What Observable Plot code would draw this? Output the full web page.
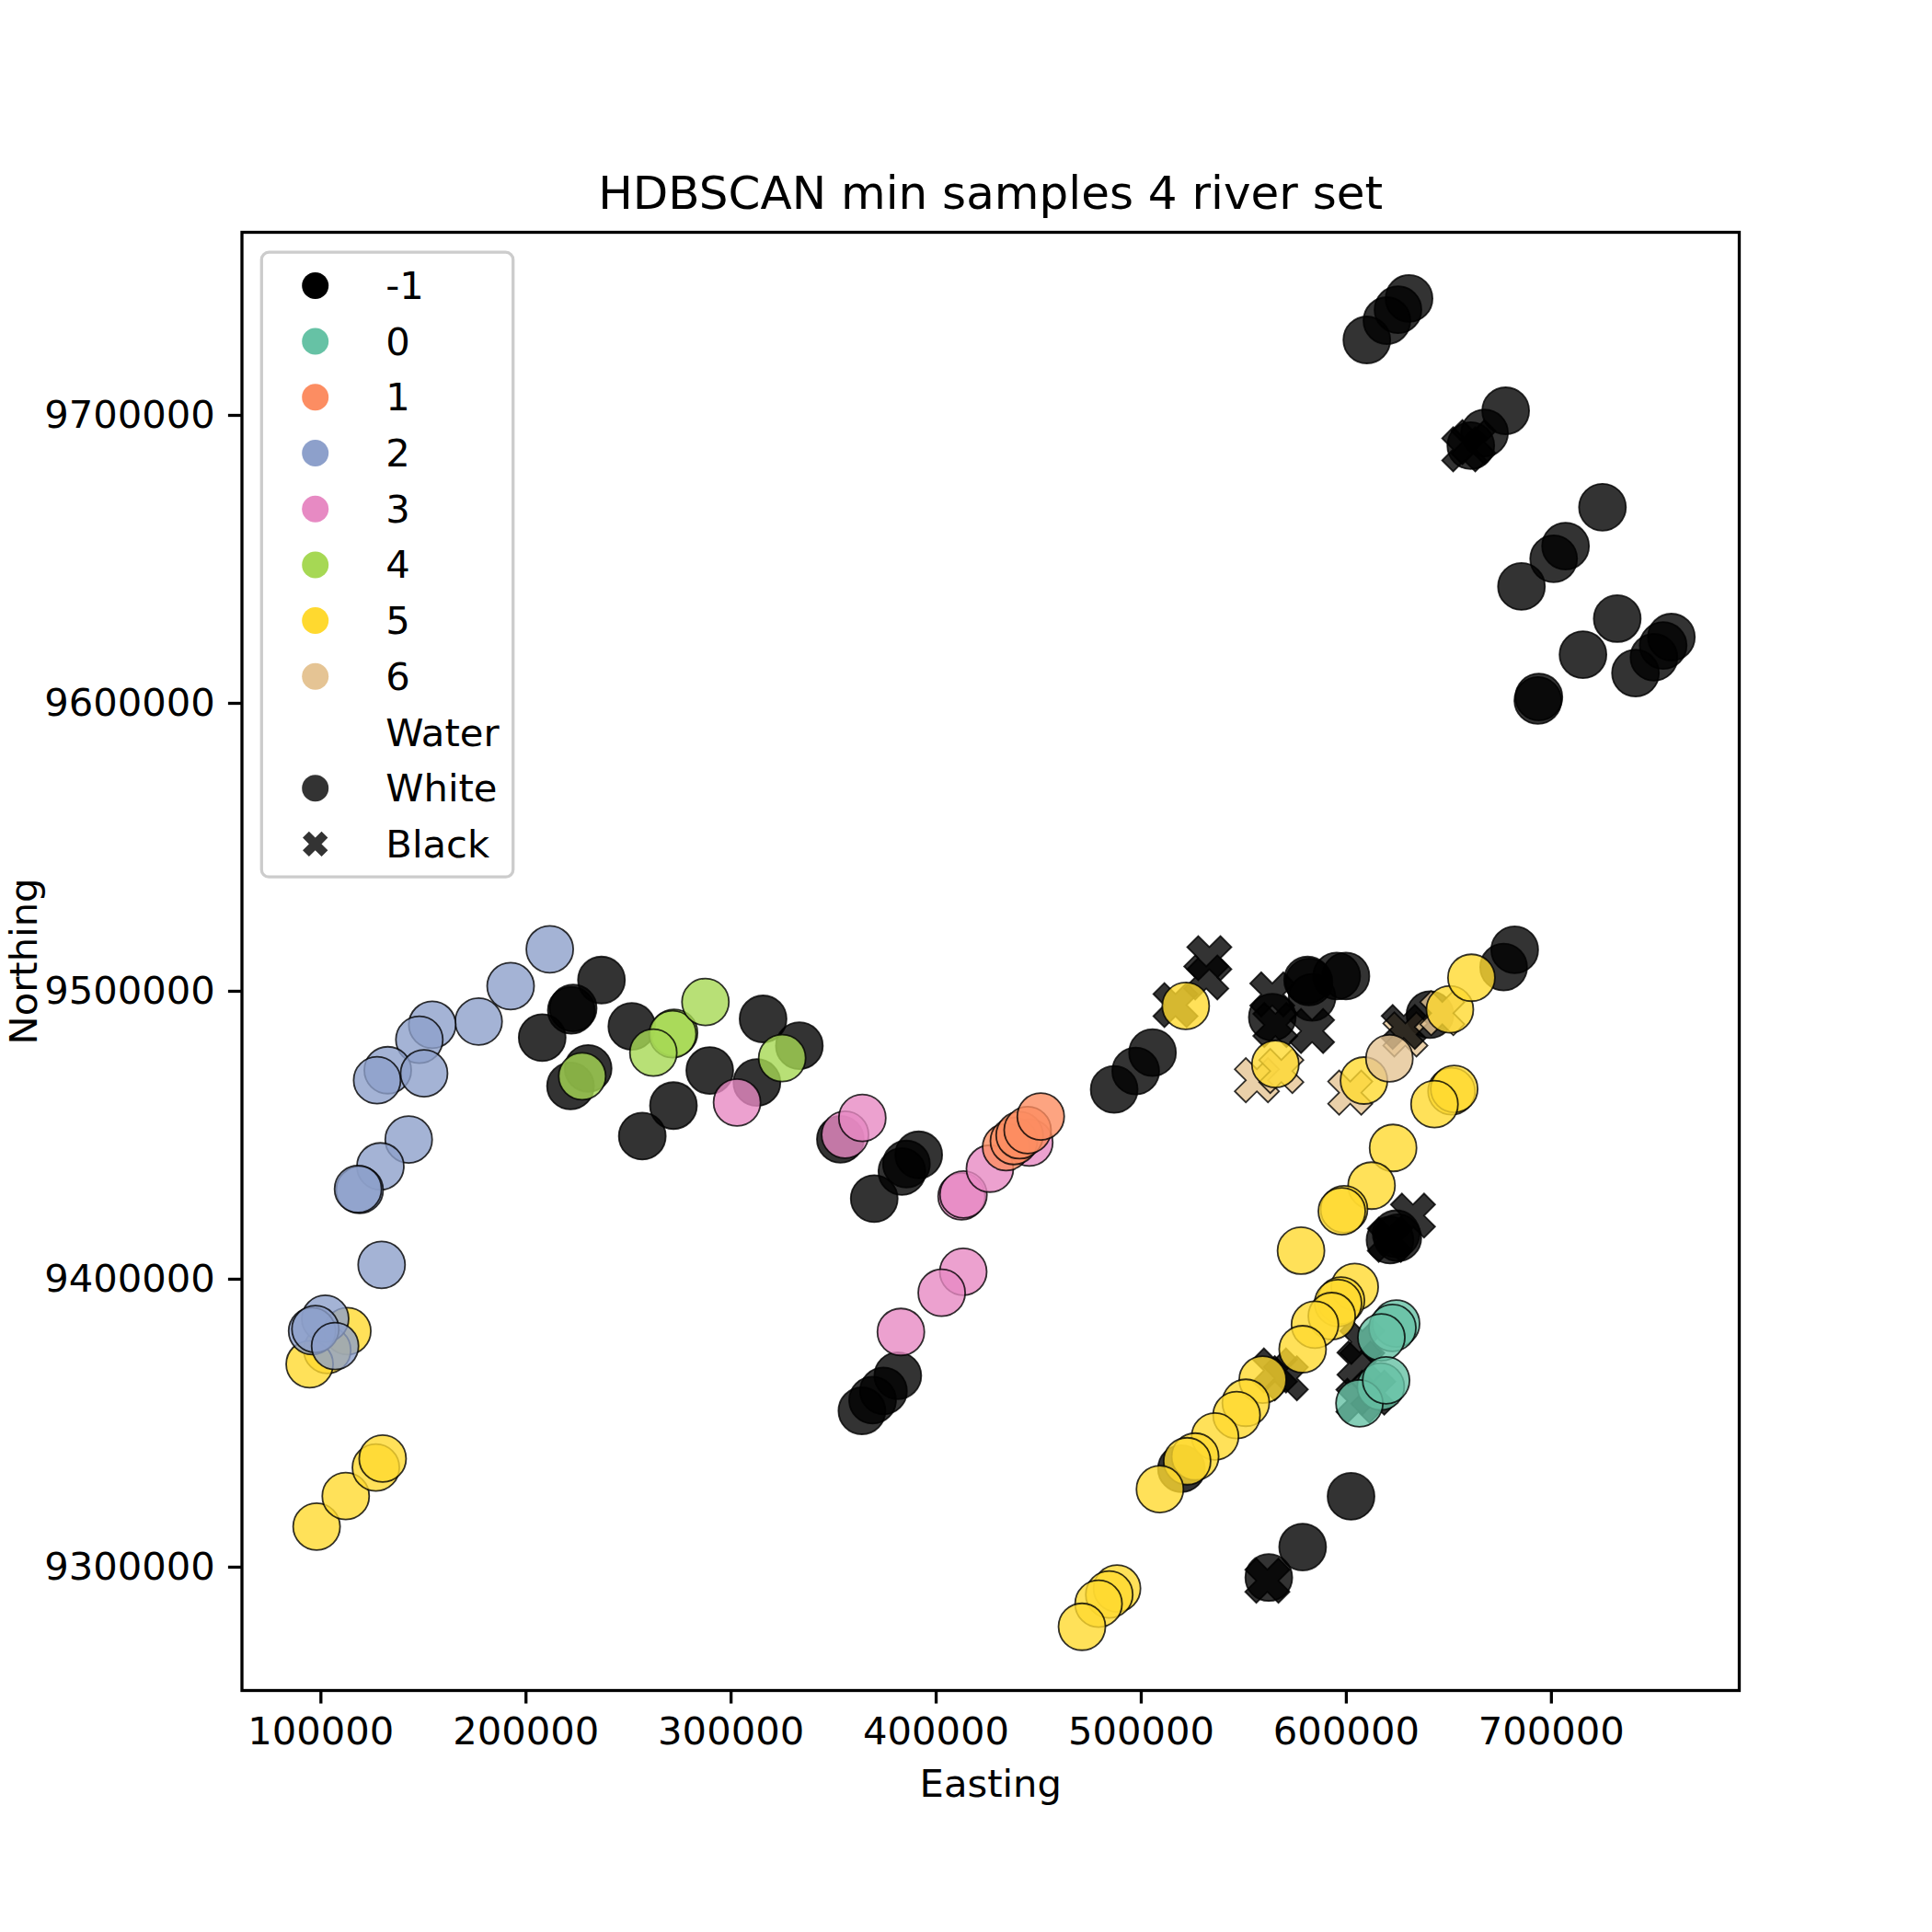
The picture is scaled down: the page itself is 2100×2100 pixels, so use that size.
<!DOCTYPE html>
<html>
<head>
<meta charset="utf-8">
<script src="https://cdn.jsdelivr.net/npm/d3@7"></script>
<script src="https://cdn.jsdelivr.net/npm/@observablehq/plot@0.6"></script>
<style>
  body { margin: 0; background: #fff; }
  #chart { width: 2100px; height: 2100px; }
</style>
</head>
<body>
<div id="chart"></div>
<script>
// ---------------- DATA ----------------
const clusters = [-1, 0, 1, 2, 3, 4, 5, 6];
const waterTypes = ["White", "Black"];
const xTicks = [100000, 200000, 300000, 400000, 500000, 600000, 700000];
const yTicks = [9300000, 9400000, 9500000, 9600000, 9700000];

// cluster -1 (noise), White water
const noiseWhite = [
  [610000, 9726200], [619800, 9732900], [625200, 9736700], [630600, 9740600],
  [660700, 9689500], [667400, 9693900], [677700, 9701600],
  [724900, 9668100], [706900, 9654600], [701100, 9650200], [685400, 9640600],
  [732100, 9629400], [715400, 9616900], [758500, 9623000], [754500, 9620100],
  [750000, 9616000], [741000, 9610500], [693900, 9602200], [693400, 9601000],
  [236800, 9503900], [222100, 9493400], [223000, 9494200], [207900, 9483900],
  [230300, 9473200], [221700, 9467100], [251600, 9487800], [289600, 9472500],
  [271900, 9460300], [256700, 9449700], [315600, 9490400], [333300, 9481100],
  [312600, 9468300], [353300, 9448600], [391500, 9443200], [385500, 9440000],
  [383300, 9437400], [369800, 9428000], [381300, 9366500], [374300, 9361200],
  [369000, 9358000], [363800, 9354300],
  [486800, 9465900], [497300, 9472300], [505500, 9478700], [563900, 9491000],
  [581800, 9503200], [583300, 9497900], [595300, 9505300], [599800, 9505300],
  [581100, 9503900], [640800, 9491900], [676700, 9508400], [682100, 9514400],
  [624300, 9415800], [621300, 9413600], [625100, 9414400], [519600, 9334200],
  [602300, 9324600], [578700, 9307000], [562200, 9296400]
];
// cluster 6, Black water
const c6Black = [
  [601900, 9464800], [556400, 9469100], [568300, 9472300], [628800, 9485000], [646800, 9492400]
];
// cluster -1 (noise), Black water
const noiseBlack = [
  [657500, 9688200], [662000, 9690700], [533200, 9511500], [531700, 9504800],
  [516700, 9495200], [563900, 9498900], [565400, 9488300], [583300, 9486200],
  [628000, 9487600], [632500, 9422100], [621200, 9413700], [565200, 9368300],
  [570500, 9365600], [607800, 9378200], [606400, 9370700], [613100, 9360600],
  [605900, 9357800], [561500, 9295300]
];
// cluster 0, White
const c0White = [
  [624300, 9384600], [622500, 9383100], [617100, 9379800], [616800, 9362700],
  [606400, 9356900], [619400, 9364900]
];
// cluster 5, White
const c5White = [
  [112900, 9382000], [103100, 9375400], [94500, 9370500], [97900, 9314100],
  [112100, 9324700], [126800, 9334600], [130100, 9337700],
  [521700, 9494900], [565400, 9474700], [608600, 9469000], [650500, 9493700],
  [661000, 9504700], [651300, 9465300], [652600, 9466100], [643000, 9460800],
  [622800, 9445600], [612300, 9432500], [598900, 9424300], [597800, 9423600],
  [577900, 9409900], [604100, 9397300], [597400, 9392600], [596000, 9391700],
  [592900, 9387200], [584700, 9384200], [578700, 9375700], [559200, 9365100],
  [551000, 9357100], [546500, 9352800], [536000, 9345400], [526300, 9338400],
  [522400, 9336800], [509100, 9327100], [488200, 9292600], [484400, 9290500],
  [479200, 9287300], [471100, 9279300]
];
// cluster 2, White
const c2White = [
  [211600, 9514600], [192500, 9501800], [176900, 9489500], [154300, 9488400],
  [148000, 9483200], [132600, 9472600], [127400, 9469100], [150300, 9471500],
  [142800, 9448500], [129000, 9439200], [118900, 9431000], [118100, 9431300],
  [129600, 9405000], [102100, 9386300], [95700, 9382000], [97300, 9382700],
  [106900, 9376800]
];
// cluster 3, White
const c3White = [
  [302900, 9461400], [355600, 9450200], [364000, 9456000], [412400, 9428800],
  [413300, 9429400], [426200, 9438400], [445400, 9447500], [413200, 9402600],
  [402700, 9395300], [382800, 9381700]
];
// cluster 1, White
const c1White = [
  [434100, 9445900], [437900, 9448000], [440700, 9450000], [444600, 9451800], [451000, 9456500]
];
// cluster 4, White
const c4White = [
  [227400, 9470500], [272200, 9485600], [271500, 9485100], [262100, 9478700],
  [287500, 9496300], [324900, 9476800]
];
// cluster 6, White
const c6White = [[621000, 9476700]];

const groups = [
  {cluster: -1, water: "White", pts: noiseWhite},
  {cluster: 6, water: "Black", pts: c6Black},
  {cluster: -1, water: "Black", pts: noiseBlack},
  {cluster: 0, water: "White", pts: c0White},
  {cluster: 5, water: "White", pts: c5White},
  {cluster: 2, water: "White", pts: c2White},
  {cluster: 3, water: "White", pts: c3White},
  {cluster: 1, water: "White", pts: c1White},
  {cluster: 4, water: "White", pts: c4White},
  {cluster: 6, water: "White", pts: c6White}
];
const data = groups.flatMap(g => g.pts.map(([e, n]) => ({easting: e, northing: n, cluster: g.cluster, water: g.water})));

// ---------------- STYLE ----------------
const palette = ["#000000", "#66c2a5", "#fc8d62", "#8da0cb", "#e78ac3", "#a6d854", "#ffd92f", "#e5c494"];
const FONT = "DejaVu Sans";
const FS = 41.7;

// matplotlib-like filled "X" marker
const xFilled = {
  draw(context, size) {
    const r = Math.sqrt(size / Math.PI);
    const u = r / 3;
    const pts = [[-1,-3],[1,-3],[1,-1],[3,-1],[3,1],[1,1],[1,3],[-1,3],[-1,1],[-3,1],[-3,-1],[-1,-1]];
    const c = Math.SQRT1_2;
    pts.forEach(([x, y], i) => {
      const px = (x - y) * c * u, py = (x + y) * c * u;
      if (i) context.lineTo(px, py); else context.moveTo(px, py);
    });
    context.closePath();
  }
};

const plot = Plot.plot({
  width: 2100,
  height: 2100,
  marginLeft: 262.5,
  marginRight: 210,
  marginTop: 252,
  marginBottom: 263,
  style: {fontFamily: FONT, background: "white", color: "black"},
  x: {domain: [61500, 791600]},
  y: {domain: [9257170, 9763580]},
  color: {type: "ordinal", domain: clusters, range: palette},
  symbol: {domain: waterTypes, range: ["circle", xFilled]},
  marks: [
    Plot.dot(data, {
      x: "easting", y: "northing", fill: "cluster", symbol: "water",
      r: 25.5, stroke: "black", strokeWidth: 1.8, fillOpacity: 0.8, strokeOpacity: 0.8
    }),
    Plot.frame({stroke: "black", strokeWidth: 3.3}),
    Plot.axisX({ticks: xTicks, tickFormat: d => String(d), tickSize: 14.6, tickPadding: 14.6,
      fontSize: FS, strokeWidth: 3.3, label: null}),
    Plot.axisY({ticks: yTicks, tickFormat: d => String(d), tickSize: 14.6, tickPadding: 14.6,
      fontSize: FS, strokeWidth: 3.3, label: null}),
    Plot.text(["HDBSCAN min samples 4 river set"], {text: d => d, frameAnchor: "top", textAnchor: "middle", lineAnchor: "middle", dy: -42, fontSize: 50}),
    Plot.text(["Easting"], {text: d => d, frameAnchor: "bottom", textAnchor: "middle", lineAnchor: "middle", dy: 102, fontSize: FS}),
    Plot.text(["Northing"], {text: d => d, frameAnchor: "left", textAnchor: "middle", lineAnchor: "middle", dx: -236, rotate: -90, fontSize: FS})
  ]
});

// ---------------- LEGEND ----------------
const svg = d3.select(plot);
const lg = svg.append("g").attr("font-family", FONT).attr("font-size", FS).attr("fill", "black").attr("text-anchor", "start");
lg.append("rect")
  .attr("x", 284.3).attr("y", 274.2).attr("width", 273.4).attr("height", 679)
  .attr("rx", 8).attr("fill", "white").attr("fill-opacity", 0.8)
  .attr("stroke", "#cccccc").attr("stroke-width", 3.3);
const rows = [
  ...clusters.map((c, i) => ({label: String(c), color: palette[i], sym: d3.symbolCircle})),
  {label: "Water", sym: null},
  {label: waterTypes[0], color: "#333333", sym: d3.symbolCircle},
  {label: waterTypes[1], color: "#333333", sym: xFilled}
];
rows.forEach((r, i) => {
  const cy = 310.4 + i * 60.7;
  if (r.sym) {
    lg.append("path")
      .attr("transform", `translate(342.7,${cy})`)
      .attr("d", d3.symbol(r.sym, Math.PI * 14.5 * 14.5)())
      .attr("fill", r.color);
  }
  lg.append("text").attr("x", 419.3).attr("y", cy).attr("dy", "0.35em").attr("text-anchor", "start").text(r.label);
});

document.getElementById("chart").appendChild(plot);
</script>
</body>
</html>
